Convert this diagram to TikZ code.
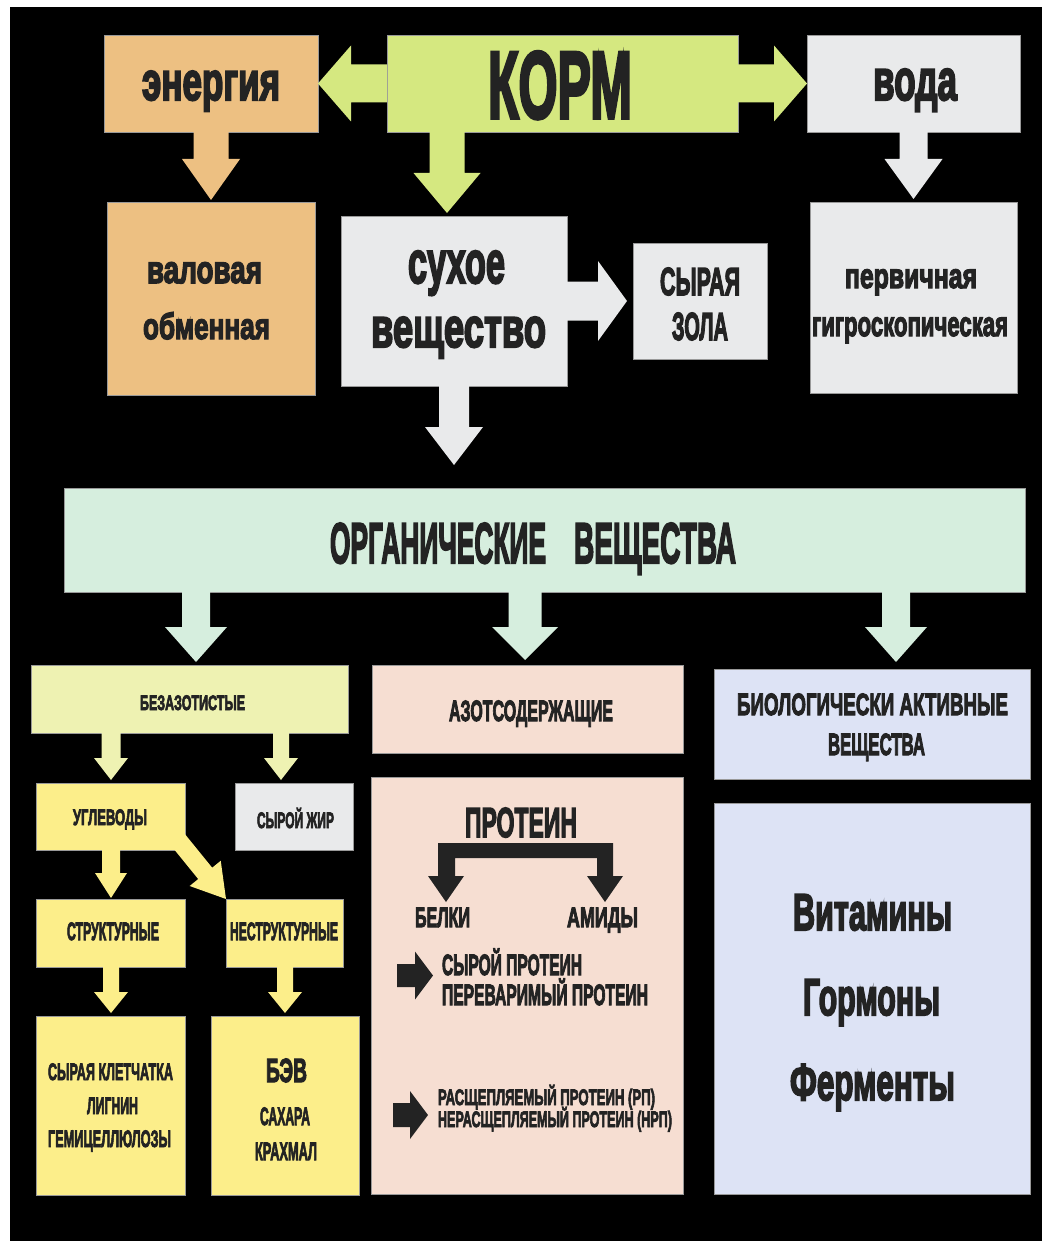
\documentclass[tikz,border=0pt]{standalone}
\usepackage{fontspec}
\usepackage{graphicx}
\setmainfont{Liberation Sans}[BoldFeatures={FakeBold=4}]
\usetikzlibrary{calc}
\definecolor{cor}{HTML}{EDC082}
\definecolor{cgr}{HTML}{D5E880}
\definecolor{cgy}{HTML}{E9EAEB}
\definecolor{cmn}{HTML}{D6EEDE}
\definecolor{cpy}{HTML}{EEF2B2}
\definecolor{cyl}{HTML}{FCEE8A}
\definecolor{cpk}{HTML}{F6DED2}
\definecolor{clv}{HTML}{DDE3F5}
\definecolor{ctx}{HTML}{232323}
\tikzset{
  boxst/.style={rectangle,inner sep=0pt,outer sep=0pt,draw=black!40,line width=0.6pt},
  txt/.style={anchor=base,inner sep=0pt,outer sep=0pt,text=ctx,font=\bfseries}
}
% box: name, colour, x1, y1, x2, y2
\newcommand\bx[6]{\node[boxst,fill=#2,minimum width={(#5-#3)*1pt},minimum height={(#6-#4)*1pt}] (#1) at ({(#3+#5)/2},{(#4+#6)/2}) {};}
% capital text: name, cx, baseline, width, cap height, text
\newcommand\txC[6]{\node[txt] (#1) at (#2,#3) {\resizebox{#4pt}{#5pt}{\smash{#6}\rule{0pt}{0.716em}}};}
% lower-case text: name, cx, baseline, width, x-height, text
\newcommand\txL[6]{\node[txt] (#1) at (#2,#3) {\resizebox{#4pt}{#5pt}{\smash{#6}\rule{0pt}{0.519em}}};}
% block arrow: colour, start, tip, shaft half width, head half width, head length
\newcommand\barr[6]{%
  \coordinate (bs) at (#2);
  \coordinate (bt) at (#3);
  \coordinate (bh) at ($(bt)!#6!(bs)$);
  \fill[#1] ($(bs)!#4!90:(bt)$) -- ($(bh)!#4!90:(bt)$) -- ($(bh)!#5!90:(bt)$) -- (bt)
    -- ($(bh)!#5!-90:(bt)$) -- ($(bh)!#4!-90:(bt)$) -- ($(bs)!#4!-90:(bt)$) -- cycle;}
\begin{document}
\begin{tikzpicture}[x=1pt,y=-1pt]
\useasboundingbox (0,0) rectangle (1042,1241);
\fill[white] (0,0) rectangle (1042,1241);
\fill[black] (10,7) rectangle (1042,1241);

% boxes
\bx{energy}{cor}{104}{35}{318}{132}
\bx{korm}{cgr}{387}{35}{738}{132}
\bx{voda}{cgy}{807}{35}{1020}{132}
\bx{valov}{cor}{107}{202}{315}{395}
\bx{sux}{cgy}{341}{216}{567}{386}
\bx{zola}{cgy}{633}{243}{767}{359}
\bx{perv}{cgy}{810}{202}{1017}{393}
\bx{org}{cmn}{64}{488}{1025}{592}
\bx{bez}{cpy}{31}{665}{348}{733}
\bx{azot}{cpk}{372}{665}{683}{753}
\bx{bio}{clv}{714}{669}{1030}{779}
\bx{ugl}{cyl}{36}{783}{185}{850}
\bx{zhir}{cgy}{235}{783}{353}{850}
\bx{prot}{cpk}{371}{777}{683}{1194}
\bx{vit}{clv}{714}{803}{1030}{1194}
\bx{str}{cyl}{36}{899}{185}{967}
\bx{nestr}{cyl}{226}{899}{343}{967}
\bx{klet}{cyl}{36}{1016}{185}{1195}
\bx{bev}{cyl}{211}{1016}{359}{1195}

% x positions of arrows
\coordinate (k3) at (447,0);
\coordinate (k8) at (196,0);
\coordinate (k9) at (525,0);
\coordinate (k10) at (896,0);
\coordinate (k11) at (111,0);
\coordinate (k12) at (281,0);
\coordinate (k16) at (285,0);

% arrows
\barr{cgr}{korm.west}{energy.east}{19pt}{38pt}{33pt}
\barr{cgr}{korm.east}{voda.west}{19pt}{38pt}{33pt}
\barr{cgr}{korm.south -| k3}{$(sux.north -| k3)+(0,-3)$}{17.5pt}{33.5pt}{40pt}
\barr{cor}{energy.south}{$(valov.north)+(0,-2)$}{17.5pt}{29pt}{41pt}
\barr{cgy}{voda.south}{$(perv.north)+(0,-3)$}{14pt}{29pt}{40pt}
\barr{cgy}{sux.east}{$(zola.west)+(-6,0)$}{19.5pt}{40pt}{29pt}
\barr{cgy}{sux.south}{$(org.north -| sux.south)+(0,-23)$}{15pt}{29pt}{38pt}
\barr{cmn}{org.south -| k8}{$(bez.north -| k8)+(0,-3)$}{14pt}{31pt}{35pt}
\barr{cmn}{org.south -| k9}{$(azot.north -| k9)+(0,-5)$}{16.5pt}{33pt}{33pt}
\barr{cmn}{org.south -| k10}{$(bio.north -| k10)+(0,-7)$}{14pt}{31pt}{35pt}
\barr{cpy}{bez.south -| k11}{$(ugl.north -| k11)+(0,-3)$}{9.5pt}{17pt}{22pt}
\barr{cpy}{bez.south -| k12}{$(zhir.north -| k12)+(0,-3)$}{8pt}{17pt}{22pt}
\barr{cyl}{ugl.south -| k11}{$(str.north -| k11)+(0,-1)$}{9pt}{16pt}{25pt}
\barr{cyl}{$(ugl.south east)+(-15,-20)$}{nestr.north west}{9pt}{20pt}{33pt}
\barr{cyl}{str.south -| k11}{$(klet.north -| k11)+(0,-3)$}{8pt}{17pt}{21pt}
\barr{cyl}{nestr.south -| k16}{$(bev.north -| k16)+(0,-3)$}{8pt}{17pt}{21pt}

% texts
\txC{tkorm}{560}{118}{144}{68}{КОРМ}
\txL{tenergy}{211}{100}{138}{28}{энергия}
\txL{tvoda}{915}{100}{84}{30}{вода}
\txL{tval1}{204.5}{283}{115}{20}{валовая}
\txL{tval2}{206.5}{339}{127}{19}{обменная}
\txL{tsux1}{456.5}{283}{97}{31}{сухое}
\txL{tsux2}{458.5}{347}{175}{29}{вещество}
\txC{tzola1}{700}{295}{80}{28}{СЫРАЯ}
\txC{tzola2}{700}{340}{56}{28}{ЗОЛА}
\txL{tperv1}{911}{288}{132}{18}{первичная}
\txL{tperv2}{910}{336}{196}{18}{гигроскопическая}
\node[txt] (torg) at (533,563) {\resizebox{216pt}{41pt}{\smash{ОРГАНИЧЕСКИЕ}\rule{0pt}{0.716em}}\hspace{28pt}\resizebox{162pt}{41pt}{\smash{ВЕЩЕСТВА}\rule{0pt}{0.716em}}};
\txC{tbez}{192.5}{710}{105}{15}{БЕЗАЗОТИСТЫЕ}
\txC{tazot}{531}{721}{164}{21}{АЗОТСОДЕРЖАЩИЕ}
\txC{tbio1}{872.5}{715}{271}{22}{БИОЛОГИЧЕСКИ АКТИВНЫЕ}
\txC{tbio2}{876.5}{755}{97}{22}{ВЕЩЕСТВА}
\txC{tugl}{110}{825}{74}{16}{УГЛЕВОДЫ}
\txC{tzhir}{295.5}{828}{77}{16}{СЫРОЙ ЖИР}
\txC{tstr}{113}{940}{92}{18}{СТРУКТУРНЫЕ}
\txC{tnstr}{284}{940}{108}{18}{НЕСТРУКТУРНЫЕ}
\txC{tk1}{110.5}{1080}{125}{17}{СЫРАЯ КЛЕТЧАТКА}
\txC{tk2}{112.5}{1114}{51}{17}{ЛИГНИН}
\txC{tk3}{109.5}{1147}{123}{17}{ГЕМИЦЕЛЛЮЛОЗЫ}
\txC{tb1}{286.5}{1082}{41}{24}{БЭВ}
\txC{tb2}{285}{1125}{50}{18}{САХАРА}
\txC{tb3}{286}{1160}{62}{18}{КРАХМАЛ}
\txC{tprot}{521}{837}{112}{30}{ПРОТЕИН}
\txC{tbel}{442.5}{927}{55}{20}{БЕЛКИ}
\txC{tam}{602.5}{927}{71}{20}{АМИДЫ}
\txC{tsp1}{512}{975}{140}{21}{СЫРОЙ ПРОТЕИН}
\txC{tsp2}{545}{1005}{206}{21}{ПЕРЕВАРИМЫЙ ПРОТЕИН}
\txC{trp1}{546.5}{1105}{217}{16}{РАСЩЕПЛЯЕМЫЙ ПРОТЕИН (РП)}
\txC{trp2}{555}{1127}{234}{16}{НЕРАСЩЕПЛЯЕМЫЙ ПРОТЕИН (НРП)}
\txC{tvit}{872.5}{930}{159}{37}{Витамины}
\txC{tgor}{871.5}{1015}{137}{37}{Гормоны}
\txC{tfer}{872.5}{1100}{165}{37}{Ферменты}

% protein bracket arrow
\fill[ctx] (438,843) -- (613,843) -- (613,876) -- (623,876) -- (605,902) -- (587,876)
  -- (597,876) -- (597,858) -- (455,858) -- (455,876) -- (464,876) -- (446,902)
  -- (428,876) -- (438,876) -- cycle;

% small pointer arrows
\coordinate (s1) at (397,975.5);
\coordinate (e1) at (433,975.5);
\coordinate (s2) at (393,1115);
\coordinate (e2) at (428,1115);
\barr{ctx}{s1}{e1}{11.5pt}{24pt}{18pt}
\barr{ctx}{s2}{e2}{12pt}{24pt}{18pt}
\end{tikzpicture}
\end{document}
